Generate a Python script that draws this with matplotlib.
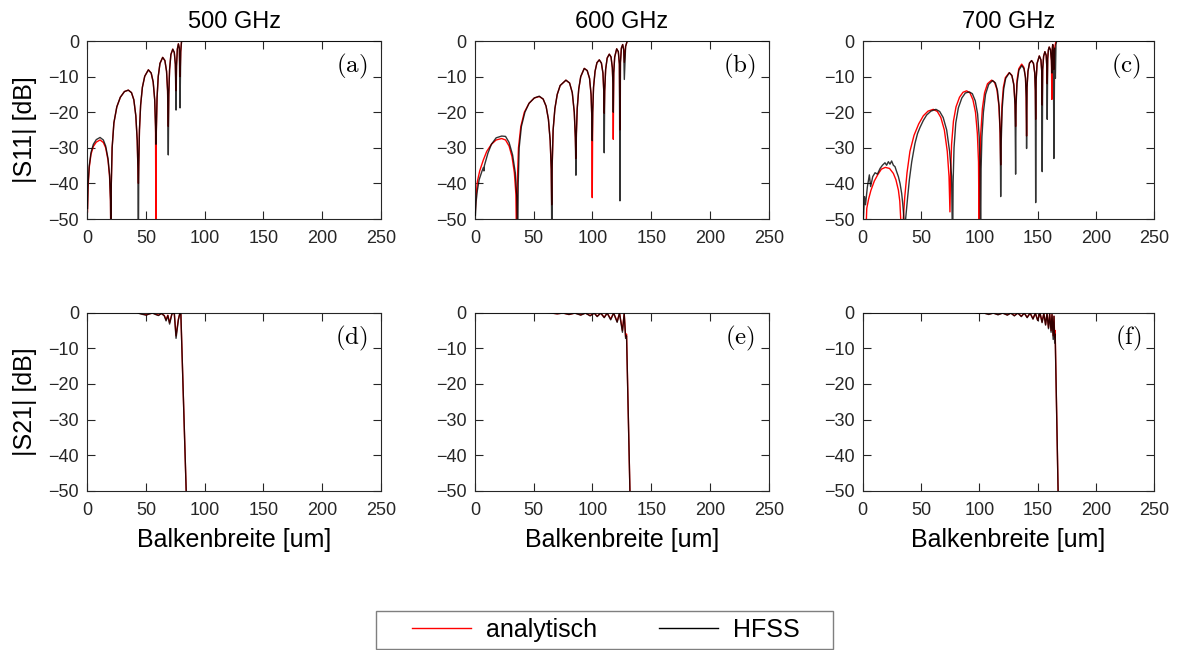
import matplotlib
matplotlib.use("Agg")
import matplotlib.pyplot as plt
from matplotlib.lines import Line2D
from matplotlib.patches import Rectangle

# ---------------- data ----------------
freqs = ["500 GHz", "600 GHz", "700 GHz"]
panel_labels = ["(a)", "(b)", "(c)", "(d)", "(e)", "(f)"]
x_ticks = [0, 50, 100, 150, 200, 250]
y_ticks = [-50, -40, -30, -20, -10, 0]
series_names = ["analytisch", "HFSS"]

# (a) S11 500 GHz
x_s11_a = [0, 0.5, 1.5, 3, 5, 7.5, 10.7, 13.5, 15.5, 17.5, 18.8, 19.6, 20.0,
           20.3, 21, 22.5, 25, 28, 31.5, 34.8, 37.5, 39.5, 41.2, 42.4, 43.0, 43.4,
           43.7, 44.3, 45.3, 46.8, 48.8, 51.9, 54.3, 56.0, 57.3, 58.0, 58.4,
           58.7, 59.3, 60.3, 61.8, 64.1, 66.0, 67.4, 68.3, 68.9,
           69.3, 70.0, 71.1, 72.7, 74.0, 74.9, 75.5,
           75.9, 76.6, 77.5, 78.3, 78.9, 79.5, 80.2, 250]
y_s11_a_ana = [-48, -41, -35.5, -31.8, -29.6, -28.4, -27.8, -28.5, -30, -33.5, -38, -45, -60,
               -40, -30, -23, -18.5, -15.8, -14.2, -13.8, -14.5, -16.5, -21, -28, -36, -40,
               -35, -25, -18, -13, -9.9, -8.1, -9.0, -11.5, -16.5, -24, -60,
               -25, -16, -10, -6.3, -4.6, -5.5, -8.5, -14, -24,
               -15, -8, -3.8, -2.3, -3.2, -6.5, -14,
               -7, -2.3, -0.8, -2.0, -10, -3, 0, 0]
y_s11_a_hfss = [-47, -40, -35, -31.3, -29, -27.7, -27.1, -27.8, -29.5, -33, -37.5, -44.5, -60,
                -40, -30, -23, -18.5, -15.8, -14.2, -13.8, -14.5, -16.5, -21, -28, -36, -60,
                -35, -25, -18, -13, -9.9, -8.1, -9.0, -11.5, -16.5, -24, -29,
                -25, -16, -10, -6.3, -4.6, -5.5, -8.5, -14, -32,
                -15, -8, -3.8, -2.3, -3.2, -6.5, -19.4,
                -7, -2.3, -0.8, -2.0, -18.8, -3, 0, 0]

# (b) S11 600 GHz
x_s11_b_ana = [0, 0.8, 2, 4, 7, 10, 14, 18, 22.7, 26, 29, 31.5, 33.5, 34.8, 35.5,
               36.0, 37, 39, 42, 46, 50.5, 54.7, 58, 60.5, 62.5, 64, 64.9, 65.3,
               65.7, 66.5, 68, 70, 72.5, 77.4, 80.5, 82.8, 84.5, 85.4, 85.9,
               86.3, 87, 88.3, 90, 93, 95.5, 97.5, 98.8, 99.4, 99.8,
               100.2, 100.9, 102.2, 103.8, 105.8, 107.6, 108.9, 109.6, 110.0,
               110.4, 111.2, 112.5, 114.3, 115.8, 116.9, 117.4, 117.7,
               118.1, 118.9, 120.6, 122.0, 122.9, 123.4,
               123.8, 124.6, 125.7, 126.6, 127.1, 128.2, 129.6, 250]
y_s11_b_ana = [-50, -44, -39.5, -36.5, -33.5, -31, -29, -27.8, -27.4, -27.8, -29.5, -32.5, -37, -43, -60,
               -40, -30, -24, -20, -17.5, -16, -15.6, -16.3, -18.3, -22, -28, -36, -46,
               -35, -25, -19, -15, -12.5, -11, -11.8, -14.5, -20, -27, -33,
               -26, -19, -13.5, -10, -7.7, -8.3, -10.5, -15, -21, -44,
               -20, -13, -8.5, -6.1, -5.3, -6.2, -9, -14, -20.3,
               -14, -8, -4.8, -3.7, -4.5, -7.5, -12, -27.6,
               -9, -4.5, -2.2, -3, -6.5, -25,
               -6, -2, -1.0, -2.5, -6, -1.5, 0, 0]
x_s11_b_hfss = [0.3, 1, 2, 3.5, 6, 7.2, 7.6, 8, 11, 14, 18, 22.7, 26, 29, 32, 34.3, 35.6, 36.3,
                36.8, 37.6, 39.5, 42.5, 46, 50.5, 54.7, 58, 60.5, 62.5, 64, 64.9, 65.5,
                65.7, 66.5, 68, 70, 72.5, 77.4, 80.5, 82.8, 84.5, 85.4, 85.9,
                86.3, 87, 88.3, 90, 93, 95.5, 97.5, 98.8, 99.4, 99.8,
                100.2, 100.9, 102.2, 103.8, 105.8, 107.6, 108.9, 109.6, 110.0,
                110.4, 111.2, 112.5, 114.3, 115.8, 116.9, 117.4, 117.7,
                118.1, 118.9, 120.6, 122.0, 122.9, 123.4,
                123.8, 124.6, 125.7, 126.6, 127.1, 128.2, 129.6, 250]
y_s11_b_hfss = [-49, -45, -42, -39, -36.5, -35.5, -36.5, -35, -31.5, -29, -27.2, -26.7, -26.8, -28.5, -32, -37, -44, -60,
                -40, -30, -24, -20, -17.5, -16, -15.5, -16.3, -18.3, -22, -28, -36, -60,
                -35, -25, -19, -15, -12.5, -11, -11.8, -14.5, -20, -27, -37.7,
                -26, -19, -13.5, -10, -7.7, -8.3, -10.5, -15, -21, -28,
                -20, -13, -8.5, -6.1, -5.3, -6.2, -9, -14, -31.4,
                -14, -8, -4.8, -3.7, -4.5, -7.5, -12, -20,
                -9, -4.5, -2.2, -3, -6.5, -44.9,
                -6, -2, -1.0, -2.5, -10.8, -1.5, 0, 0]

# (c) S11 700 GHz
x_s11_c_ana = [0, 2.6, 3.5, 5, 7, 10, 13, 16, 19.4, 23, 26.3, 28.5, 30.6, 31.8, 32.6, 33.7,
               34.8, 36, 38, 40.5, 44, 48, 52, 56, 60.5, 64, 67, 70, 72.5, 74, 74.8,
               75.3, 76.2, 77.8, 80, 83, 86, 89.1, 92, 94.5, 96.7, 98.3, 99.3, 99.9,
               100.4, 101.2, 102.6, 104.5, 107, 110.5, 113, 115, 116.7, 117.7, 118.3,
               118.7, 119.4, 120.6, 122.3, 125.6, 127.8, 129.5, 130.5, 131.1,
               131.5, 132.3, 133.8, 136.3, 138.2, 139.5, 140.1, 140.5,
               140.9, 141.7, 143.0, 144.8, 146.4, 147.5, 148.0, 148.3,
               148.7, 149.5, 151.4, 152.8, 153.5, 153.9,
               154.3, 155.1, 156.2, 157.3, 157.9, 158.2,
               158.6, 159.2, 159.9, 161.0, 161.8, 162.2,
               162.5, 162.9, 163.5, 163.9, 164.6, 165.4, 166.3, 250]
y_s11_c_ana = [-60, -55, -47, -44.5, -42, -39.3, -37.5, -36, -35.5, -35.8, -37.2, -39, -41.9, -45, -50, -60,
               -50, -44, -37, -31, -26.5, -23.3, -21, -19.7, -19.2, -19.8, -21.5, -25, -31, -38, -48,
               -38, -29, -22.5, -18.5, -15.8, -14.4, -14.0, -14.6, -16.5, -20, -26, -34, -60,
               -36, -26, -19, -14.5, -12, -11.0, -11.6, -13.5, -18, -25, -34.8,
               -26, -18, -13, -10.3, -8.9, -9.6, -12, -17, -24,
               -17, -11, -7.8, -6.5, -7.4, -10, -15, -26.7,
               -13, -8.5, -6.2, -5.5, -6.3, -9, -14, -22,
               -11, -6.3, -4.2, -5.3, -8.5, -18,
               -8, -4.3, -3.0, -4, -7.5, -12,
               -5, -2.5, -1.7, -2.5, -5.5, -16.4,
               -2.5, -1.0, -3, -8, -2, -0.5, 0, 0]
x_s11_c_hfss = [0, 0.5, 1.6, 2.4, 4.0, 5.7, 6.8, 8.6, 10.6, 12.6, 14.9, 16.9, 19.1, 20.5, 22.0,
                23.4, 24.8, 26.3, 27.7, 29.1, 30.6, 32.0, 33.4, 34.3, 35.4, 36.1,
                36.8, 38.5, 40, 42, 44.8, 47, 49.1, 52, 54.8, 58.5, 62.8, 66, 69, 72, 74.5, 76.2, 77.1,
                77.5, 78.3, 79.8, 82, 85, 88, 91.4, 94, 96.5, 98.5, 99.9, 100.6, 101.1,
                101.5, 102.2, 103.5, 105.3, 108, 111.4, 113.8, 115.6, 117.0, 117.9, 118.3,
                118.8, 119.6, 120.9, 122.6, 125.8, 128.0, 129.6, 130.6, 131.1,
                131.5, 132.3, 133.9, 136.4, 138.3, 139.6, 140.2, 140.5,
                140.9, 141.7, 143.0, 144.8, 146.4, 147.5, 148.0, 148.3,
                148.7, 149.5, 151.4, 152.8, 153.5, 153.9,
                154.3, 155.1, 156.2, 157.3, 157.9, 158.2,
                158.6, 159.2, 159.9, 161.0, 161.8, 162.2,
                162.5, 162.9, 163.5, 163.9, 164.6, 165.2, 165.7, 166.3, 250]
y_s11_c_hfss = [-60, -50, -43.7, -46, -41, -37.6, -40.9, -38.1, -37, -37.4, -35.8, -34.9, -34.2, -34.9, -33.9,
                -34.6, -33.7, -34.9, -35.3, -36.7, -38.1, -40, -42.8, -45.6, -50, -60,
                -50, -44, -39, -34, -28.8, -26, -24.3, -22.3, -20.8, -19.7, -19.2, -19.8, -21.5, -25, -31, -38, -60,
                -40, -30, -23, -18.8, -16, -14.6, -14.3, -14.8, -16.8, -20.5, -27, -35, -60,
                -36, -27, -20, -15, -12.2, -11.1, -11.8, -14, -18.5, -26, -43.7,
                -28, -19, -13.5, -10.5, -8.9, -9.8, -12.5, -18, -37.4,
                -18, -12, -8.2, -6.9, -7.8, -10.5, -16, -30.2,
                -13, -8.5, -6.2, -5.5, -6.3, -9, -14, -45.4,
                -11, -6.3, -4.2, -5.3, -8.5, -36.7,
                -8, -4.3, -3.0, -4, -7.5, -22,
                -5, -2.5, -1.7, -2.5, -5.5, -9,
                -2.5, -1.0, -3, -33, -2, -10.5, -1, 0, 0]

# (d) S21 500 GHz
x_s21_d = [0, 42, 46, 50, 53, 55.5, 58, 60.5, 63, 65.5, 67, 68.5, 70, 72, 74, 75.5, 77.5, 78.8, 79.6, 84.6]
y_s21_d_ana = [0, 0, -0.3, -0.6, -0.3, -0.1, -0.4, -0.7, -0.2, -0.8, -2.0, -0.7, -2.8, -0.3, -0.1, -6.5, -1.8, -0.1, -0.3, -55]
y_s21_d_hfss = [0, 0, -0.4, -0.7, -0.3, -0.1, -0.5, -0.8, -0.2, -0.9, -2.3, -0.8, -3.2, -0.3, -0.1, -7.2, -2.0, -0.1, -0.3, -55]

# (e) S21 600 GHz
x_s21_e = [0, 60, 65, 70, 75, 80, 85, 90, 94, 98, 101.5, 104, 107, 110, 112.5, 115.5, 118, 121, 123,
           125.5, 127, 128.2, 129, 132.2]
y_s21_e_ana = [0, 0, -0.1, -0.3, -0.1, -0.5, -0.1, -0.6, -0.1, -0.8, -0.1, -1.0, -0.1, -1.3, -0.1, -1.8,
               -0.1, -2.5, -0.1, -5.0, -0.2, -6.8, -6, -55]
y_s21_e_hfss = [0, 0, -0.1, -0.3, -0.1, -0.5, -0.1, -0.7, -0.1, -0.9, -0.1, -1.1, -0.1, -1.4, -0.1, -2.0,
                -0.1, -2.7, -0.1, -5.5, -0.2, -7.2, -6.5, -55]

# (f) S21 700 GHz
x_s21_f = [0, 95, 100, 104, 108, 112, 116, 120, 124, 127, 130, 133, 136, 138.5, 141, 143.5, 146, 148,
           150, 152, 153.8, 155.3, 156.8, 158, 159.3, 160.3, 161.5, 162.3, 163.3, 164, 164.6, 165, 167.8]
y_s21_f_ana = [0, 0, -0.2, -0.1, -0.4, -0.1, -0.5, -0.1, -0.6, -0.1, -0.8, -0.1, -1.0, -0.1, -1.3, -0.1,
               -1.7, -0.1, -2.1, -0.1, -2.6, -0.2, -3.3, -0.2, -4.2, -0.3, -5.0, -0.5, -6.5, -1, -7, -5, -55]
y_s21_f_hfss = [0, 0, -0.2, -0.1, -0.5, -0.1, -0.6, -0.1, -0.7, -0.1, -0.9, -0.1, -1.1, -0.1, -1.4, -0.1,
                -1.8, -0.1, -2.2, -0.1, -2.8, -0.2, -3.5, -0.2, -4.5, -0.3, -5.5, -0.5, -7.5, -1, -8.5, -6, -55]

panels = [
    (x_s11_a, y_s11_a_ana, x_s11_a, y_s11_a_hfss),
    (x_s11_b_ana, y_s11_b_ana, x_s11_b_hfss, y_s11_b_hfss),
    (x_s11_c_ana, y_s11_c_ana, x_s11_c_hfss, y_s11_c_hfss),
    (x_s21_d, y_s21_d_ana, x_s21_d, y_s21_d_hfss),
    (x_s21_e, y_s21_e_ana, x_s21_e, y_s21_e_hfss),
    (x_s21_f, y_s21_f_ana, x_s21_f, y_s21_f_hfss),
]

# ---------------- figure ----------------
plt.rcParams['font.family'] = ['Liberation Sans', 'DejaVu Sans']
plt.rcParams['mathtext.fontset'] = 'cm'

W, H = 1178, 650
fig = plt.figure(figsize=(W / 100, H / 100), dpi=100)
fig.patch.set_facecolor('white')

col_left = [87.5, 475.0, 862.7]
col_w = [293.2, 293.7, 291.6]
row_top = [41.0, 312.7]
row_h = 178.0
axis_col = '#262626'

axes = []
for r in range(2):
    for c in range(3):
        ax = fig.add_axes([col_left[c] / W, 1 - (row_top[r] + row_h) / H, col_w[c] / W, row_h / H])
        axes.append(ax)

for i, ax in enumerate(axes):
    xa, ya, xh, yh = panels[i]
    ax.plot(xa, ya, color='#ff0000', lw=1.0, zorder=2)
    ax.plot(xh, yh, color='black', lw=1.0, alpha=0.8, zorder=3)
    ax.set_xlim(0, 250)
    ax.set_ylim(-50, 0)
    ax.set_xticks(x_ticks)
    ax.set_yticks(y_ticks)
    ax.tick_params(direction='in', top=True, right=True, length=6, width=0.8,
                   color=axis_col, labelcolor=axis_col, labelsize=13, pad=6)
    ax.tick_params(axis='x', pad=8)
    for s in ax.spines.values():
        s.set_color(axis_col)
        s.set_linewidth(0.8)
    ax.text(0.955, 0.855, r'$\mathrm{' + panel_labels[i] + '}$', transform=ax.transAxes,
            ha='right', va='center', fontsize=18, color='black')
    r, c = divmod(i, 3)
    if r == 0:
        ax.set_title(freqs[c], fontsize=17, pad=0, y=(219 - 22) / row_h, va='center', color='black')
    if r == 1:
        ax.set_xlabel('Balkenbreite [um]', fontsize=18, color='black')
        ax.xaxis.label.set_va('center')
        ax.xaxis.set_label_coords(0.5, (490.7 - 540) / row_h)
    if c == 0:
        ax.set_ylabel('|S11| [dB]' if r == 0 else '|S21| [dB]', fontsize=18, color='black')
        ax.yaxis.label.set_va('center')
        ax.yaxis.set_label_coords((25 - 87.5) / 293.2, 0.5)

# legend box drawn as a figure rectangle, entries placed inside it
fig.patches.append(Rectangle((376 / W, 1 - 649 / H), (833 - 376) / W, (649 - 611) / H,
                             transform=fig.transFigure, facecolor='white', edgecolor='#7f7f7f',
                             lw=1.0, zorder=5))
handles = [Line2D([], [], color='#ff0000', lw=1.0), Line2D([], [], color='black', lw=1.0)]
leg = fig.legend(handles, series_names, loc='center', bbox_to_anchor=(606 / W, 1 - 630 / H),
                 ncol=2, fontsize=18, frameon=False,
                 handlelength=2.35, columnspacing=2.5, borderpad=0.2, handletextpad=0.6)
leg.set_zorder(6)

fig.savefig('out.png', dpi=100, facecolor='white')
